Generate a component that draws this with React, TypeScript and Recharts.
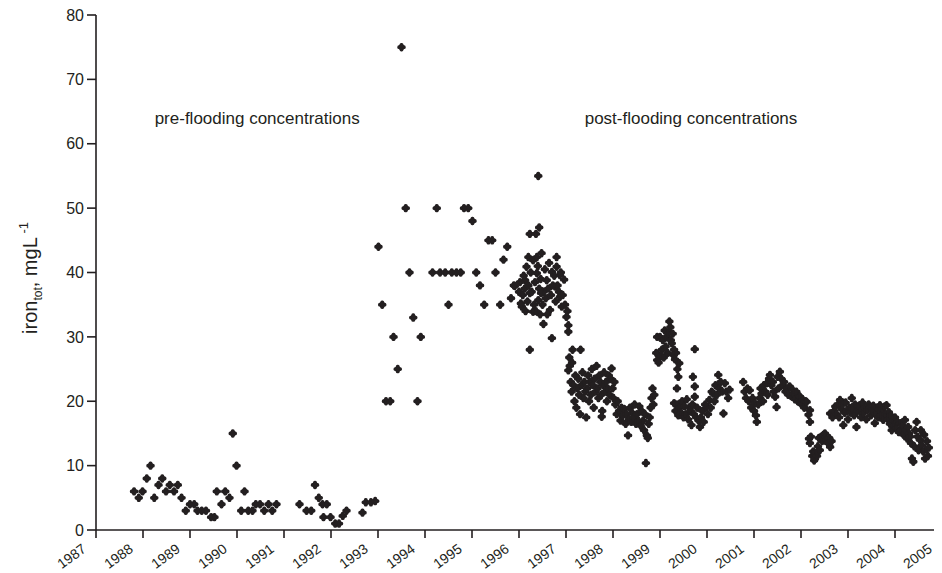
import { ScatterChart, Scatter, XAxis, YAxis, ReferenceDot, Label } from 'recharts'

const INK = '#231f20'
const FONT = '"Liberation Sans", Arial, sans-serif'

const yearTicks = [1987, 1988, 1989, 1990, 1991, 1992, 1993, 1994, 1995, 1996, 1997, 1998, 1999, 2000, 2001, 2002, 2003, 2004, 2005]
const ironTicks = [0, 10, 20, 30, 40, 50, 60, 70, 80]

// [decimal year, iron mg/L]
const preFlooding: [number, number][] = [
  [1987.81, 6], [1987.91, 5], [1987.99, 6], [1988.08, 8], [1988.16, 10], [1988.24, 5], [1988.33, 7], [1988.41, 8],
  [1988.49, 6], [1988.57, 7], [1988.66, 6], [1988.74, 7], [1988.82, 5], [1988.91, 3], [1989.0, 4], [1989.09, 4],
  [1989.16, 3], [1989.25, 3], [1989.34, 3], [1989.45, 2], [1989.52, 2], [1989.57, 6], [1989.67, 4], [1989.75, 6],
  [1989.84, 5], [1989.91, 15], [1989.99, 10], [1990.09, 3], [1990.16, 6], [1990.24, 3], [1990.33, 3], [1990.4, 4],
  [1990.49, 4], [1990.58, 3], [1990.67, 4], [1990.75, 3], [1990.84, 4], [1991.33, 4], [1991.48, 3], [1991.58, 3],
  [1991.66, 7], [1991.74, 5], [1991.82, 4], [1991.84, 2], [1991.91, 4], [1991.99, 2], [1992.09, 1], [1992.17, 1],
  [1992.25, 2.2], [1992.33, 3], [1992.67, 2.7], [1992.74, 4.3], [1992.85, 4.3], [1992.94, 4.5],
]

const floodingPhase: [number, number][] = [
  [1993.01, 44], [1993.09, 35], [1993.17, 20], [1993.26, 20], [1993.33, 30], [1993.42, 25], [1993.5, 75], [1993.59, 50],
  [1993.67, 40], [1993.75, 33], [1993.84, 20], [1993.91, 30], [1994.16, 40], [1994.25, 50], [1994.32, 40], [1994.43, 40],
  [1994.5, 35], [1994.57, 40], [1994.67, 40], [1994.76, 40], [1994.83, 50], [1994.92, 50], [1995.01, 48], [1995.09, 40],
  [1995.17, 38], [1995.26, 35], [1995.35, 45], [1995.43, 45], [1995.5, 40], [1995.6, 35], [1995.67, 42], [1995.75, 44],
  [1995.83, 36], [1995.89, 38],
]

const post1996: [number, number][] = [
  [1995.91, 37.9], [1996.06, 34.7], [1996.16, 40.9], [1996.2, 42.4], [1996.23, 46], [1996.23, 28], [1996.3, 41.9],
  [1996.36, 46], [1996.38, 42.4], [1996.38, 39.9], [1996.13, 38.8], [1996.23, 36.8], [1996.41, 35.7], [1996.41, 55],
  [1996.43, 47], [1996.48, 43], [1996.52, 37], [1996.52, 32], [1996.59, 38.8], [1996.7, 40.1], [1996.7, 29.8],
  [1996.8, 40.9], [1996.8, 42.4], [1996.87, 39.6], [1996.96, 38.9], [1996.77, 37.8], [1996.87, 36.2], [1996.91, 34.7],
  [1996.66, 34.2], [1996.3, 33.9], [1996.45, 33.5], [1996.04, 35.2], [1997.01, 33.1], [1997.05, 31.8], [1997.05, 30.8],
  [1996.0, 37], [1996.02, 38.5], [1996.08, 36.5], [1996.1, 39.5], [1996.12, 37.5], [1996.18, 35.5], [1996.2, 38],
  [1996.25, 40], [1996.27, 37], [1996.32, 35], [1996.34, 38.5], [1996.4, 41], [1996.43, 37.5], [1996.46, 39],
  [1996.5, 35], [1996.55, 40.5], [1996.57, 36], [1996.62, 37.5], [1996.64, 41.5], [1996.68, 36.5], [1996.72, 38],
  [1996.75, 39.5], [1996.78, 35.5], [1996.82, 38], [1996.85, 37], [1996.89, 40], [1996.93, 36.5], [1996.98, 35],
  [1997.03, 34], [1996.6, 33.5], [1996.36, 34], [1996.14, 34], [1996.47, 36.8],
]

const post1997: [number, number][] = [
  [1997.14, 28], [1997.31, 28], [1997.07, 26.8], [1997.05, 24.8], [1997.08, 25.5], [1997.1, 23], [1997.12, 21.5],
  [1997.13, 26], [1997.16, 22.5], [1997.18, 20], [1997.2, 24], [1997.22, 19], [1997.24, 22], [1997.26, 23.5],
  [1997.28, 21], [1997.3, 18], [1997.33, 22.5], [1997.35, 24.5], [1997.37, 20.5], [1997.39, 23], [1997.41, 21.5],
  [1997.43, 17.5], [1997.45, 22], [1997.47, 24], [1997.49, 20], [1997.51, 23], [1997.53, 21], [1997.55, 25],
  [1997.57, 22.5], [1997.59, 19], [1997.61, 23.5], [1997.63, 21.5], [1997.65, 25.5], [1997.67, 22], [1997.69, 20.5],
  [1997.71, 24], [1997.73, 23], [1997.75, 21], [1997.77, 18.5], [1997.76, 17.6], [1997.79, 22.5], [1997.81, 24.5],
  [1997.83, 21.5], [1997.85, 23], [1997.87, 20], [1997.89, 22], [1997.91, 24], [1997.93, 21], [1997.95, 23.5],
  [1997.97, 25.1], [1997.99, 22], [1998.01, 20.5], [1998.03, 23],
]

const post1998: [number, number][] = [
  [1998.05, 19.5], [1998.08, 18], [1998.1, 20], [1998.13, 18.5], [1998.16, 17], [1998.18, 19], [1998.21, 17.8],
  [1998.24, 18.8], [1998.27, 16.5], [1998.29, 18], [1998.32, 14.7], [1998.34, 17.2], [1998.36, 19], [1998.39, 16.8],
  [1998.41, 18.2], [1998.44, 17.5], [1998.46, 19.5], [1998.49, 16.5], [1998.51, 18], [1998.54, 17], [1998.56, 19.2],
  [1998.59, 16.2], [1998.61, 18.5], [1998.64, 17], [1998.66, 15.5], [1998.68, 18], [1998.7, 10.4], [1998.72, 14.7],
  [1998.74, 14.3], [1998.76, 16.5], [1998.78, 17.5], [1998.8, 19], [1998.82, 20.5], [1998.84, 22], [1998.86, 19.5],
  [1998.88, 21],
]

const post1999: [number, number][] = [
  [1998.92, 27.5], [1998.94, 30], [1998.94, 26.4], [1998.97, 26], [1999.0, 30], [1999.02, 27], [1999.04, 28],
  [1999.06, 29.5], [1999.08, 26.8], [1999.1, 31], [1999.12, 28.5], [1999.14, 30], [1999.16, 27.5], [1999.18, 30.6],
  [1999.2, 32.4], [1999.22, 31.5], [1999.23, 29.5], [1999.25, 29], [1999.27, 30.5], [1999.28, 27.2], [1999.3, 28],
  [1999.32, 26.5], [1999.34, 27.5], [1999.36, 22], [1999.37, 25], [1999.39, 23.8], [1999.41, 25.9],
  [1999.3, 19.7], [1999.33, 18.5], [1999.36, 19.5], [1999.39, 17.8], [1999.42, 19], [1999.45, 18.2], [1999.47, 20],
  [1999.5, 17.5], [1999.52, 19.2], [1999.55, 18], [1999.57, 20.3], [1999.6, 17.2], [1999.62, 19], [1999.65, 18.5],
  [1999.67, 16.3], [1999.69, 19.5], [1999.7, 23.8], [1999.72, 18], [1999.74, 20.7], [1999.74, 22.3], [1999.74, 28.1],
  [1999.77, 17.5], [1999.79, 19], [1999.82, 17], [1999.85, 16],
]

const post2000: [number, number][] = [
  [1999.87, 17.5], [1999.9, 18.5], [1999.93, 16.8], [1999.96, 19.5], [1999.99, 19.1], [2000.02, 18], [2000.05, 20.2],
  [2000.08, 19], [2000.1, 21.5], [2000.13, 21.2], [2000.16, 20], [2000.18, 22.5], [2000.21, 21], [2000.24, 24.1],
  [2000.26, 22], [2000.29, 23], [2000.32, 21.5], [2000.35, 18.1], [2000.38, 22.8], [2000.41, 21.5], [2000.45, 20.5],
  [2000.48, 21.8], [2000.77, 23], [2000.8, 21.5], [2000.83, 20.5], [2000.86, 22], [2000.89, 20], [2000.91, 21.7],
  [2000.94, 19], [2000.97, 20.5], [2001.0, 18.5], [2001.02, 19.7], [2001.04, 17.8], [2001.06, 16.8], [2001.09, 19.5],
  [2001.12, 20.5], [2001.14, 22], [2001.16, 21.2], [2001.19, 20], [2001.21, 22.5], [2001.24, 21.5], [2001.27, 22.8],
  [2001.29, 21], [2001.32, 23.5], [2001.34, 24.1], [2001.37, 22.5], [2001.4, 23], [2001.42, 21.5], [2001.45, 20.7],
  [2001.48, 19.1], [2001.5, 23.8], [2001.52, 22], [2001.55, 24.6],
]

const post2001: [number, number][] = [
  [2001.58, 23.5], [2001.61, 22.5], [2001.64, 23], [2001.67, 21.5], [2001.7, 22], [2001.73, 21], [2001.76, 22.3],
  [2001.79, 20.8], [2001.82, 21.8], [2001.84, 21.2], [2001.87, 20.3], [2001.9, 21.5], [2001.93, 20], [2001.96, 20.8],
  [2001.98, 20.7], [2002.01, 19.5], [2002.04, 20.2], [2002.07, 19], [2002.1, 20], [2002.12, 19.9], [2002.16, 17.9],
  [2002.19, 16.8], [2002.19, 18.6], [2002.17, 14.2], [2002.19, 13.5], [2002.21, 14.5], [2002.24, 11.5], [2002.26, 12.2],
  [2002.28, 10.8], [2002.3, 11.1], [2002.32, 12], [2002.34, 11.5], [2002.36, 13], [2002.38, 14.3], [2002.4, 12.4],
  [2002.43, 14.5], [2002.45, 13.8], [2002.48, 14.8], [2002.51, 15], [2002.54, 14], [2002.57, 13.5], [2002.6, 14.3],
  [2002.62, 12.9], [2002.65, 13.8],
]

const post2002: [number, number][] = [
  [2002.62, 18.1], [2002.67, 17.5], [2002.7, 18.5], [2002.73, 19.2], [2002.76, 18], [2002.79, 19.5], [2002.81, 17.5],
  [2002.83, 20.2], [2002.86, 18.8], [2002.88, 19.5], [2002.9, 16.3], [2002.93, 18.2], [2002.95, 19.8], [2002.98, 18.5],
  [2003.0, 17.2], [2003.03, 19], [2003.05, 18.3], [2003.08, 20.5], [2003.1, 18.8], [2003.13, 17.8], [2003.15, 19.5],
  [2003.18, 16], [2003.2, 18.5], [2003.23, 19.3], [2003.26, 18.4], [2003.28, 17.5], [2003.31, 19.8], [2003.33, 18.2],
  [2003.36, 19], [2003.39, 17.2], [2003.41, 18.6], [2003.44, 19.5], [2003.47, 19.1], [2003.49, 17.8], [2003.52, 18.5],
  [2003.54, 19.3], [2003.57, 16.6], [2003.59, 18], [2003.62, 19], [2003.64, 17.5], [2003.66, 18.7], [2003.68, 19.4],
  [2003.71, 17.8], [2003.73, 18.8], [2003.75, 17.1], [2003.78, 19.2], [2003.8, 18], [2003.82, 19.4], [2003.85, 17.2],
  [2003.87, 18.3], [2003.89, 16.5], [2003.91, 17.8], [2003.93, 15.5], [2003.96, 17], [2003.98, 16.2], [2004.0, 17.5],
  [2004.03, 15.8], [2004.05, 16.8], [2004.08, 15.2], [2004.11, 16.6], [2004.13, 15.5], [2004.16, 16.2], [2004.18, 14.8],
  [2004.21, 17.1], [2004.23, 15.5], [2004.26, 14.2], [2004.28, 16], [2004.3, 15], [2004.32, 14.5], [2004.34, 13.5],
  [2004.36, 11.1], [2004.39, 10.6], [2004.41, 13], [2004.43, 15.5], [2004.46, 16.8], [2004.48, 14.5], [2004.5, 12.4],
  [2004.53, 14], [2004.55, 15.5], [2004.57, 13.2], [2004.6, 12.2], [2004.62, 14.8], [2004.64, 11.1], [2004.66, 12.5],
  [2004.68, 13.8], [2004.7, 11.5], [2004.72, 12.8],
]

const series = [preFlooding, floodingPhase, post1996, post1997, post1998, post1999, post2000, post2001, post2002]

const toPoints = (rows: [number, number][]) => rows.map(([year, iron]) => ({ year, iron }))

function Plus(props: any) {
  const { cx, cy } = props
  if (cx == null || cy == null) return null
  return (
    <g fill={INK}>
      <circle cx={cx} cy={cy} r={2.9} />
      <rect x={cx - 4.2} y={cy - 1.9} width={8.4} height={3.8} rx={1.6} />
      <rect x={cx - 1.9} y={cy - 4.2} width={3.8} height={8.4} rx={1.6} />
    </g>
  )
}

function YearTick({ x, y, payload }: any) {
  const ax = x - 9
  const ay = y + 11
  return (
    <text x={ax} y={ay} textAnchor="end" fontSize={14} fill={INK} fontFamily={FONT} transform={`rotate(-36, ${ax}, ${ay})`}>
      {payload.value}
    </text>
  )
}

function IronLabel() {
  return (
    <text x={29} y={270} textAnchor="middle" fontSize={20} fill={INK} fontFamily={FONT} transform="rotate(-90, 29, 270)">
      iron
      <tspan fontSize={12} dy={5}>tot</tspan>
      <tspan dy={-5}>, mgL</tspan>
      <tspan fontSize={13} dy={-9}> -1</tspan>
    </text>
  )
}

export default function App() {
  return (
    <div style={{ fontFamily: FONT }}>
      <ScatterChart width={934} height={565} margin={{ top: 7, right: 0, bottom: 0, left: 0 }}>
        <XAxis
          type="number"
          dataKey="year"
          domain={[1987, 2005]}
          ticks={yearTicks}
          interval={0}
          allowDataOverflow
          height={43}
          tickSize={8}
          tickMargin={2}
          stroke={INK}
          strokeWidth={1.6}
          tick={<YearTick />}
        />
        <YAxis
          type="number"
          dataKey="iron"
          domain={[0, 80]}
          ticks={ironTicks}
          interval={0}
          width={88}
          tickSize={9}
          tickMargin={3}
          stroke={INK}
          strokeWidth={1.6}
          tick={{ fill: INK, fontSize: 16, fontFamily: FONT }}
        >
          <Label content={<IronLabel />} />
        </YAxis>
        {series.map((rows, i) => (
          <Scatter key={i} data={toPoints(rows)} shape={<Plus />} isAnimationActive={false} />
        ))}
        <ReferenceDot x={1990.43} y={64} r={1} fill="none" stroke="none"
          label={{ value: 'pre-flooding concentrations', position: 'center', fill: INK, fontSize: 17, fontFamily: FONT }} />
        <ReferenceDot x={1999.66} y={64} r={1} fill="none" stroke="none"
          label={{ value: 'post-flooding concentrations', position: 'center', fill: INK, fontSize: 17, fontFamily: FONT }} />
      </ScatterChart>
    </div>
  )
}
